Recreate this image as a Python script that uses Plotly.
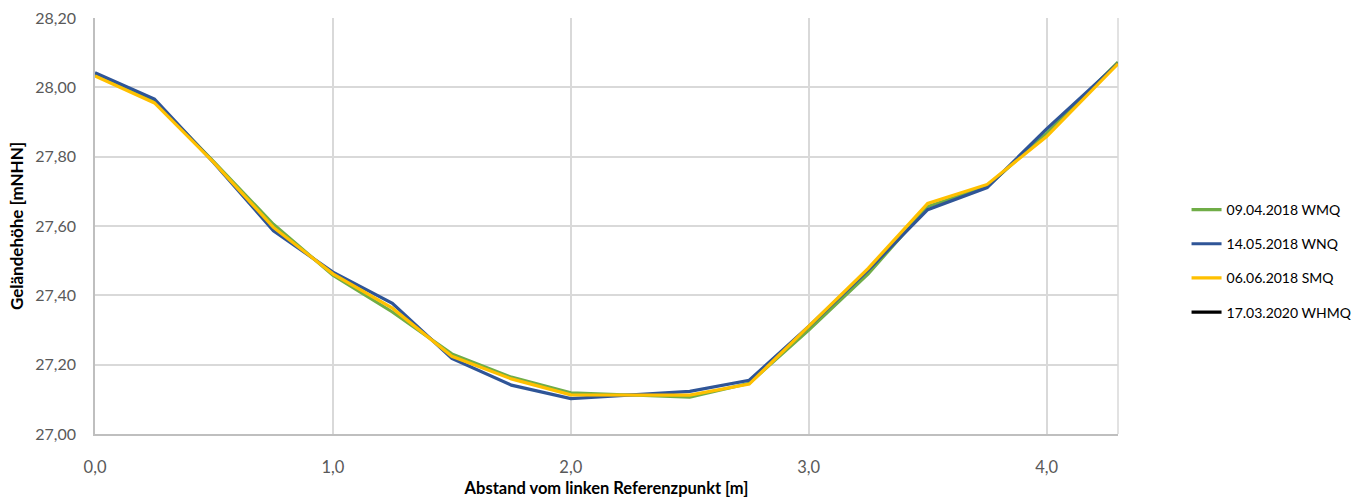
import plotly.graph_objects as go

# distance from left reference point [m]
x_vals = [0.0, 0.25, 0.5, 0.75, 1.0, 1.25, 1.5, 1.75, 2.0, 2.25, 2.5, 2.75, 3.0, 3.25, 3.5, 3.75, 4.0, 4.3]

green_y = [28.038, 27.960, 27.785, 27.605, 27.458, 27.352, 27.231, 27.164, 27.119, 27.112, 27.106, 27.146, 27.300, 27.462, 27.656, 27.714, 27.868, 28.073]
blue_y = [28.042, 27.966, 27.782, 27.586, 27.467, 27.377, 27.218, 27.141, 27.102, 27.112, 27.123, 27.155, 27.310, 27.473, 27.647, 27.711, 27.880, 28.069]
yellow_y = [28.033, 27.955, 27.783, 27.596, 27.462, 27.363, 27.224, 27.159, 27.113, 27.112, 27.112, 27.144, 27.312, 27.478, 27.665, 27.720, 27.858, 28.068]
black_y = []

series_names = ["09.04.2018 WMQ", "14.05.2018 WNQ", "06.06.2018 SMQ", "17.03.2020 WHMQ"]
series_colors = ["#70AD47", "#2F5597", "#FFC000", "#000000"]

x_tick_vals = [0, 1, 2, 3, 4]
x_tick_text = ["0,0", "1,0", "2,0", "3,0", "4,0"]
y_tick_vals = [27.0, 27.2, 27.4, 27.6, 27.8, 28.0, 28.2]
y_tick_text = ["27,00", "27,20", "27,40", "27,60", "27,80", "28,00", "28,20"]

FONT = "Lato, 'Open Sans', sans-serif"

fig = go.Figure()
for name, color, ys in zip(series_names, series_colors, [green_y, blue_y, yellow_y, black_y]):
    if ys:
        fig.add_trace(go.Scatter(x=x_vals, y=ys, mode="lines", name=name,
                                 legendgroup=name,
                                 line=dict(color=color, width=3.2)))
    else:
        fig.add_trace(go.Scatter(x=[None], y=[None], mode="lines", name=name,
                                 legendgroup=name,
                                 line=dict(color=color, width=3.2)))

fig.update_layout(
    width=1355, height=498,
    margin=dict(l=95, r=237, t=18, b=64, autoexpand=False),
    paper_bgcolor="white", plot_bgcolor="white",
    font=dict(family=FONT, size=14, color="#595959"),
    showlegend=True,
    legend=dict(x=1.067, xanchor="left", y=0.416, yanchor="middle",
                font=dict(family=FONT, size=14, color="#000000"),
                tracegroupgap=13, bgcolor="rgba(0,0,0,0)"),
    xaxis=dict(range=[0, 4.3], tickvals=x_tick_vals, ticktext=x_tick_text,
               automargin=False,
               showgrid=True, gridcolor="#D9D9D9", gridwidth=1.5,
               showline=True, linecolor="#BFBFBF", linewidth=1.5,
               zeroline=False, ticks="", ticklabelstandoff=17,
               tickfont=dict(family=FONT, size=16.5, color="#595959"),
               title=dict(text="<b>Abstand vom linken Referenzpunkt [m]</b>",
                          font=dict(family=FONT, size=16.5, color="#000000"),
                          standoff=16)),
    yaxis=dict(range=[27.0, 28.2], tickvals=y_tick_vals, ticktext=y_tick_text,
               automargin=False,
               showgrid=True, gridcolor="#D9D9D9", gridwidth=1.5,
               showline=True, linecolor="#BFBFBF", linewidth=1.5,
               zeroline=False, ticks="", ticklabelstandoff=14,
               tickfont=dict(family=FONT, size=16, color="#595959"),
               title=dict(text="<b>Geländehöhe [mNHN]</b>",
                          font=dict(family=FONT, size=17, color="#000000"),
                          standoff=7)),
)
fig.add_shape(type="line", xref="paper", yref="paper", x0=1, x1=1, y0=0, y1=1,
              line=dict(color="#D9D9D9", width=1.5), layer="below")

# remove the default page margin so the figure sits at the window's top-left corner
fig.write_html("out.html", config={"displayModeBar": False},
               post_script="document.body.style.margin='0';")
